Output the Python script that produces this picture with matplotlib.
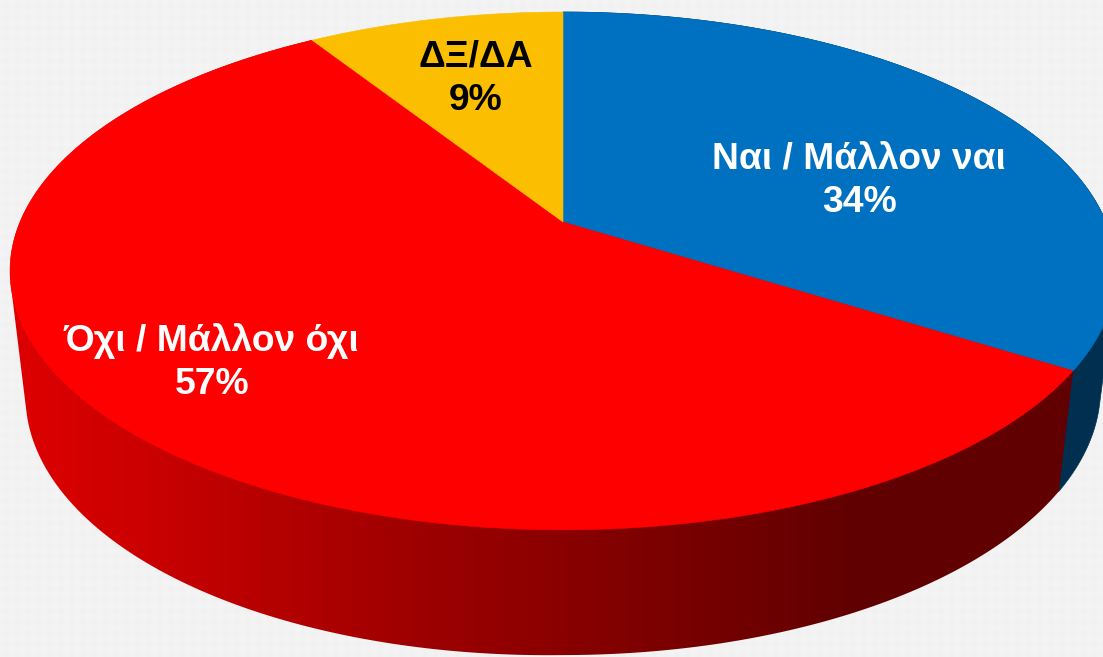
import numpy as np
import matplotlib
matplotlib.use("Agg")
import matplotlib.pyplot as plt
from matplotlib.colors import LinearSegmentedColormap
from matplotlib.patches import Polygon

# --- data ---
categories = ["Ναι / Μάλλον ναι", "Όχι / Μάλλον όχι", "ΔΞ/ΔΑ"]
values = [34, 57, 9]
top_colors = ["#0070C0", "#FF0000", "#FCBE00"]
blue_side = "#002F50"
label_colors = ["white", "white", "black"]
label_xy = [(859, 159), (211, 341), (476, 57)]
pct_xy = [(860, 202), (212, 384), (476, 100)]

# --- perspective of the pie, in pixels ---
W, H = 1103, 657
CX, CY = 563, 222
RX, A, K = 543, 207.7, -0.189
SX, SY, DY = 0.972, 1.03, 116.0
LEFT_SAG = 6.0


def top(theta):
    """Clockwise angle from 12 o'clock to a pixel on the upper rim."""
    x, t = np.sin(theta), -np.cos(theta)
    d = 1 + K * t
    return CX + RX * x / d, (CY + A * t) / d


def bottom(theta):
    x, y = top(theta)
    lx = CX + SX * (x - CX)
    sag = LEFT_SAG * np.clip((CX - lx) / 430, 0, None)
    return lx, CY + DY + SY * (y - CY) + sag


def hull(pts):
    """Convex hull of the rim points of one slice (monotone chain)."""
    p = sorted(set(map(tuple, np.round(pts, 3))))

    def half(seq):
        out = []
        for q in seq:
            while len(out) > 1 and ((out[-1][0] - out[-2][0]) * (q[1] - out[-2][1])
                                    - (out[-1][1] - out[-2][1]) * (q[0] - out[-2][0])) <= 0:
                out.pop()
            out.append(q)
        return out[:-1]

    return np.array(half(p) + half(p[::-1]))


fig = plt.figure(figsize=(W / 100, H / 100), dpi=100)
ax = fig.add_axes([0, 0, 1, 1])
ax.set_xlim(0, W)
ax.set_ylim(H, 0)
ax.axis("off")

# subtle background texture
yy, xx = np.mgrid[0:H, 0:W]
tex = 242 + 2.2 * np.cos(2 * np.pi * (xx + yy) / 22) * np.cos(2 * np.pi * (xx - yy) / 22)
ax.imshow(tex, cmap="gray", vmin=0, vmax=255, extent=(0, W, H, 0),
          aspect="auto", zorder=0, interpolation="bilinear")

edges = np.cumsum([0] + values) / sum(values) * 2 * np.pi
grad_stops = [(0, "#DC0000"), (25, "#DC0000"), (130, "#CC0000"), (300, "#B00000"), (400, "#A00000"),
              (560, "#8A0000"), (750, "#700000"), (850, "#620000"), (1103, "#600000")]
red_side = LinearSegmentedColormap.from_list(
    "red_side", [(x / W, c) for x, c in grad_stops], N=72)

# extruded sides
for i, (a, b) in enumerate(zip(edges[:-1], edges[1:])):
    th = np.linspace(a, b, 360)
    ux, uy = top(th)
    lx, ly = bottom(th)
    pts = hull(np.column_stack([np.r_[ux, lx], np.r_[uy, ly]]))
    if i == 0:
        ax.add_patch(Polygon(pts, closed=True, fc=blue_side, ec=blue_side, lw=0.5, zorder=2))
    elif i == 1:
        clip = Polygon(pts, closed=True, fc="none", ec="none", transform=ax.transData)
        ax.add_patch(clip)
        grad = np.linspace(0, 1, 1024)[None, :]
        im = ax.imshow(grad, cmap=red_side, extent=(0, W, H, 0),
                       aspect="auto", zorder=3)
        im.set_clip_path(clip)

# upper faces
for i, (a, b) in enumerate(zip(edges[:-1], edges[1:])):
    th = np.linspace(a, b, 360)
    ux, uy = top(th)
    pts = np.column_stack([np.r_[CX, ux], np.r_[CY, uy]])
    ax.add_patch(Polygon(pts, closed=True, fc=top_colors[i], ec=top_colors[i], lw=0.4,
                         zorder=4 + (i != 0)))

# labels
FS = 26.8
font = ["Liberation Sans", "DejaVu Sans"]
for cat, v, c, p, q in zip(categories, values, label_colors, label_xy, pct_xy):
    ax.text(*p, cat, color=c, family=font, fontweight="bold", fontsize=FS,
            ha="center", va="center", zorder=8)
    ax.text(*q, f"{v}%", color=c, family=font, fontweight="bold", fontsize=FS,
            ha="center", va="center", zorder=8)

ax.set_xlim(0, W)
ax.set_ylim(H, 0)
fig.savefig("out.png", dpi=100)
